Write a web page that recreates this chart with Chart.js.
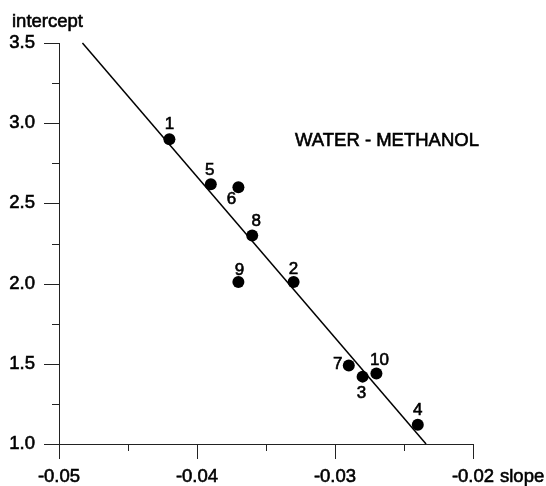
<!DOCTYPE html>
<html>
<head>
<meta charset="utf-8">
<script src="https://cdn.jsdelivr.net/npm/chart.js@4.4.1/dist/chart.umd.min.js"></script>
<style>
  html, body { margin: 0; padding: 0; background: #fff; }
  #wrap { width: 546px; height: 486px; }
</style>
</head>
<body>
<div id="wrap"><canvas id="c" width="546" height="486"></canvas></div>
<script>
// ---- data ----
const pointLabels = ['1', '2', '3', '4', '5', '6', '7', '8', '9', '10'];
const slopes      = [-0.042, -0.033, -0.028, -0.024, -0.039, -0.037, -0.029, -0.036, -0.037, -0.027];
const intercepts  = [2.90, 2.01, 1.42, 1.12, 2.62, 2.60, 1.49, 2.30, 2.01, 1.44];
const fitSlopes     = [-0.0483, -0.0234];
const fitIntercepts = [3.5, 1.0];
const xMajorTicks = [-0.05, -0.04, -0.03, -0.02];
const xMinorTicks = [-0.045, -0.035, -0.025];
const yMajorTicks = [1.0, 1.5, 2.0, 2.5, 3.0, 3.5];
const yMinorTicks = [1.25, 1.75, 2.25, 2.75, 3.25];
const chartTitle = 'WATER - METHANOL';
const xAxisName = 'slope';
const yAxisName = 'intercept';

// ---- label placement (pixel offsets of the number labels from their points) ----
const labelOffsets = [[0,-15],[0,-13],[-1,17],[0,-14],[-1,-14],[-7,12],[-11,-1],[4,-14],[1,-12],[3,-13]];

const FONT = '"Liberation Sans", Arial, sans-serif';
Chart.defaults.font.family = FONT;
Chart.defaults.color = '#000';

const axisColor = '#222';
const TEXT_STROKE = 0.6;

function heavyText(ctx, t, x, y) {
  ctx.fillText(t, x, y);
  ctx.strokeText(t, x, y);
}

const decorations = {
  id: 'decorations',
  afterDatasetsDraw(chart) {
    const ctx = chart.ctx;
    const xs = chart.scales.x, ys = chart.scales.y;
    ctx.save();
    ctx.strokeStyle = axisColor;
    ctx.lineWidth = 1;
    // tick marks
    const xAxisY = ys.getPixelForValue(ys.min);
    const yAxisX = xs.getPixelForValue(xs.min);
    ctx.beginPath();
    xMajorTicks.forEach(v => { const p = Math.round(xs.getPixelForValue(v)) + 0.5; ctx.moveTo(p, xAxisY); ctx.lineTo(p, xAxisY + 15); });
    xMinorTicks.forEach(v => { const p = Math.round(xs.getPixelForValue(v)) + 0.5; ctx.moveTo(p, xAxisY); ctx.lineTo(p, xAxisY + 7); });
    yMajorTicks.forEach(v => { const p = Math.round(ys.getPixelForValue(v)) + 0.5; ctx.moveTo(yAxisX, p); ctx.lineTo(yAxisX - 15, p); });
    yMinorTicks.forEach(v => { const p = Math.round(ys.getPixelForValue(v)) + 0.5; ctx.moveTo(yAxisX, p); ctx.lineTo(yAxisX - 7, p); });
    ctx.stroke();

    // point labels
    ctx.fillStyle = '#000';
    ctx.strokeStyle = '#000';
    ctx.lineWidth = TEXT_STROKE;
    ctx.font = '17px ' + FONT;
    ctx.textAlign = 'center';
    ctx.textBaseline = 'middle';
    pointLabels.forEach((t, i) => {
      const px = xs.getPixelForValue(slopes[i]) + labelOffsets[i][0];
      const py = ys.getPixelForValue(intercepts[i]) + labelOffsets[i][1];
      heavyText(ctx, t, px, py);
    });

    // title inside plot
    ctx.font = '18.5px ' + FONT;
    ctx.textAlign = 'left';
    ctx.textBaseline = 'alphabetic';
    heavyText(ctx, chartTitle, 295, 146);

    // axis names
    heavyText(ctx, yAxisName, 12, 27);
    heavyText(ctx, xAxisName, 500, 482);
    ctx.restore();
  }
};

new Chart(document.getElementById('c'), {
  type: 'scatter',
  data: {
    datasets: [
      {
        label: 'points',
        data: slopes.map((s, i) => ({ x: s, y: intercepts[i] })),
        pointRadius: 6,
        pointHoverRadius: 6,
        pointBackgroundColor: '#000',
        pointBorderColor: '#000',
        pointBorderWidth: 0,
        order: 0
      },
      {
        label: 'fit',
        data: fitSlopes.map((s, i) => ({ x: s, y: fitIntercepts[i] })),
        showLine: true,
        borderColor: '#000',
        borderWidth: 1.5,
        pointRadius: 0,
        fill: false,
        clip: false,
        order: 1
      }
    ]
  },
  options: {
    responsive: false,
    animation: false,
    devicePixelRatio: 1,
    layout: { padding: { left: 0, right: 73, top: 43, bottom: 0 } },
    plugins: { legend: { display: false }, tooltip: { enabled: false } },
    scales: {
      x: {
        type: 'linear',
        min: -0.05, max: -0.02,
        afterBuildTicks: s => { s.ticks = xMajorTicks.map(v => ({ value: v })); },
        afterFit: s => { s.height = 42; },
        grid: { display: false, drawTicks: false },
        border: { display: true, color: axisColor, width: 1 },
        ticks: { padding: 22, maxRotation: 0, autoSkip: false, font: { size: 18.5 }, color: '#000',
                 textStrokeColor: '#000', textStrokeWidth: TEXT_STROKE,
                 callback: v => Number(v).toFixed(2) }
      },
      y: {
        type: 'linear',
        min: 1.0, max: 3.5,
        afterBuildTicks: s => { s.ticks = yMajorTicks.map(v => ({ value: v })); },
        afterFit: s => { s.width = 59; },
        grid: { display: false, drawTicks: false },
        border: { display: true, color: axisColor, width: 1 },
        ticks: { padding: 24, autoSkip: false, font: { size: 18.5 }, color: '#000',
                 textStrokeColor: '#000', textStrokeWidth: TEXT_STROKE,
                 callback: v => Number(v).toFixed(1) }
      }
    }
  },
  plugins: [decorations]
});
</script>
</body>
</html>
